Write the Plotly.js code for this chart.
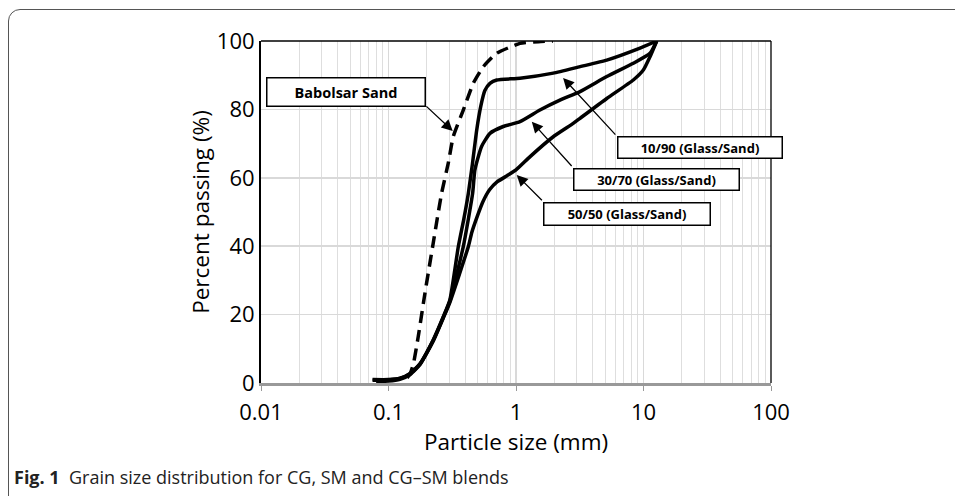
<!DOCTYPE html>
<html><head><meta charset="utf-8">
<script src="https://cdn.plot.ly/plotly-3.0.1.min.js"></script>
<style>
html,body{margin:0;padding:0;background:#fff;overflow:hidden}
#frame{position:absolute;left:8px;top:9px;width:1000px;height:520px;border:1px solid #555;border-radius:12px;box-sizing:border-box}
#chart{position:absolute;left:0;top:0;width:955px;height:496px}
</style></head><body>
<div id="frame"></div>
<div id="chart"></div>
<script>
// Data (particle size in mm, percent passing)
const babolsarSize = [0.14, 0.148, 0.157, 0.171, 0.193, 0.224, 0.261, 0.294, 0.322, 0.386, 0.462, 0.555, 0.706, 1.075, 1.5, 1.95];
const babolsarPass = [1.5, 2.8, 5.7, 13.5, 26.2, 40.8, 55.5, 64.2, 72, 79.8, 87.6, 92.5, 96.4, 99.3, 99.8, 100];

const g10Size = [0.075, 0.1, 0.123, 0.148, 0.177, 0.224, 0.269, 0.303, 0.353, 0.39, 0.423, 0.455, 0.492, 0.53, 0.57, 0.625, 0.706, 1.075, 1.96, 3.18, 5.15, 9.39, 12.7];
const g10Pass = [1.0, 1.0, 1.4, 2.8, 5.7, 12.6, 19.4, 24.3, 39.9, 48, 55.5, 64, 74, 81, 85.5, 87.6, 88.6, 89.1, 90.6, 92.5, 94.4, 97.9, 100];

const g30Size = [0.075, 0.1, 0.123, 0.148, 0.177, 0.224, 0.269, 0.303, 0.386, 0.457, 0.476, 0.536, 0.625, 0.794, 1.075, 1.54, 2.21, 3.18, 5.15, 8.32, 11.25, 12.7];
const g30Pass = [0.8, 0.9, 1.3, 2.7, 5.6, 12.4, 19.2, 24.0, 39.9, 55.5, 62.3, 69.1, 73, 75, 76.4, 79.8, 82.7, 85.2, 89.6, 93.5, 96.4, 100];

const g50Size = [0.08, 0.1, 0.123, 0.148, 0.177, 0.224, 0.269, 0.303, 0.423, 0.45, 0.5, 0.55, 0.62, 0.71, 0.85, 1.0, 1.29, 1.96, 2.81, 3.18, 5.15, 8.32, 9.97, 11.25, 12.7];
const g50Pass = [0.5, 0.6, 1.1, 2.5, 5.4, 12.2, 19.0, 23.6, 39.9, 44, 49, 53, 56.5, 58.8, 60.6, 62.3, 66.2, 72, 75.9, 77.4, 83.2, 88.6, 91.5, 95.4, 100];

const xTickVals = [0.01, 0.1, 1, 10, 100];
const xTickText = ['0.01', '0.1', '1', '10', '100'];
const yTickVals = [0, 20, 40, 60, 80, 100];

const labels = ['Babolsar Sand', '10/90 (Glass/Sand)', '30/70 (Glass/Sand)', '50/50 (Glass/Sand)'];

const minorVals = [];
for (let e = -2; e < 2; e++) for (let k = 2; k <= 9; k++) minorVals.push(k * Math.pow(10, e));

const FONT = 'Open Sans, Noto Sans, sans-serif';
const solid = {color: '#000', width: 3.5, shape: 'spline', smoothing: 0.5};

const traces = [
  {x: babolsarSize, y: babolsarPass, mode: 'lines', line: {color: '#000', width: 3.5, dash: '12px,7px', shape: 'spline', smoothing: 0.5}, name: labels[0]},
  {x: g10Size, y: g10Pass, mode: 'lines', line: solid, name: labels[1]},
  {x: g30Size, y: g30Pass, mode: 'lines', line: solid, name: labels[2]},
  {x: g50Size, y: g50Pass, mode: 'lines', line: solid, name: labels[3]}
];

const L = Math.log10;
function box(text, x, y, w, h, size) {
  return {text: '<b>' + text + '</b>', x: x, y: y, xref: 'x', yref: 'y', showarrow: false,
    bordercolor: '#000', borderwidth: 1.5, borderpad: 0, bgcolor: '#fff', width: w, height: h,
    font: {family: FONT, size: size, color: '#000'}, align: 'center', valign: 'middle'};
}
function arrow(tx, ty, hx, hy) {
  return {text: '', x: L(hx), y: hy, ax: L(tx), ay: ty, xref: 'x', yref: 'y', axref: 'x', ayref: 'y',
    showarrow: true, arrowhead: 2, arrowsize: 1.7, arrowwidth: 1.3, arrowcolor: '#000'};
}

const layout = {
  width: 955, height: 496,
  margin: {l: 261, r: 184, t: 41, b: 113},
  paper_bgcolor: 'rgba(0,0,0,0)', plot_bgcolor: '#fff',
  showlegend: false,
  font: {family: FONT, color: '#000'},
  xaxis: {
    type: 'log', range: [-2, 2], tickmode: 'array', tickvals: xTickVals, ticktext: xTickText,
    showgrid: true, gridcolor: '#d9d9d9', gridwidth: 1.5,
    minor: {tickmode: 'array', tickvals: minorVals, showgrid: true, gridcolor: '#dedede', gridwidth: 1.2, ticks: ''},
    showline: true, linecolor: '#999', linewidth: 2.5, zeroline: false, ticks: 'outside', ticklen: 5, tickcolor: '#999',
    ticklabelstandoff: 3,
    tickfont: {family: FONT, size: 22, color: '#000'},
    title: {text: 'Particle size (mm)', font: {family: FONT, size: 22.5, color: '#000'}, standoff: 0}
  },
  yaxis: {
    range: [0, 100], tickmode: 'array', tickvals: yTickVals,
    showgrid: true, gridcolor: '#d9d9d9', gridwidth: 1.5, zeroline: false,
    showline: true, linecolor: '#000', linewidth: 2, ticks: '',
    tickfont: {family: FONT, size: 22, color: '#000'},
    title: {text: 'Percent passing (%)', font: {family: FONT, size: 22.5, color: '#000'}, standoff: 1}
  },
  shapes: [
    {type: 'line', xref: 'paper', yref: 'paper', x0: 0, x1: 1, y0: 1, y1: 1, line: {color: '#000', width: 1.3}},
    {type: 'line', xref: 'paper', yref: 'paper', x0: 1, x1: 1, y0: 0, y1: 1, line: {color: '#000', width: 1.3}}
  ],
  annotations: [
    arrow(0.193, 81.3, 0.319, 73.7),
    arrow(6.17, 72.2, 2.34, 89.2),
    arrow(2.80, 63, 1.33, 76.4),
    arrow(1.64, 53, 1.013, 60.8),
    box(labels[0], -1.337, 85.1, 157, 27, 14.5),
    box(labels[1], 1.442, 68.9, 163, 20, 13),
    box(labels[2], 1.102, 59.5, 164, 20, 13),
    box(labels[3], 0.870, 49.3, 165, 21, 13),
    {text: '<b>Fig. 1</b>\u00a0\u00a0Grain size distribution for CG, SM and CG\u2013SM blends',
     xref: 'paper', yref: 'paper', x: (12 - 261) / 510, y: (383 - 477) / 342, xanchor: 'left', yanchor: 'middle',
     showarrow: false, font: {family: FONT, size: 18, color: '#222'}}
  ]
};

Plotly.newPlot('chart', traces, layout, {displayModeBar: false, staticPlot: true});
</script>
</body></html>
